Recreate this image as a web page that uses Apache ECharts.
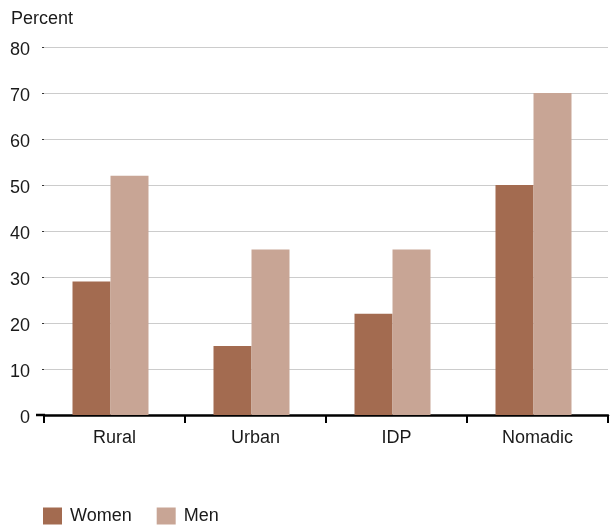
<!DOCTYPE html>
<html>
<head>
<meta charset="utf-8">
<script src="https://cdn.jsdelivr.net/npm/echarts@6/dist/echarts.min.js"></script>
<style>
  html, body { margin: 0; padding: 0; background: #fff; }
  #chart { width: 611px; height: 525px; }
</style>
</head>
<body>
<div id="chart"></div>
<script>
// Share of adults, by settlement type
const categories = ['Rural', 'Urban', 'IDP', 'Nomadic'];
const women = [29, 15, 22, 50];
const men = [52, 36, 36, 70];
const yTicks = [0, 10, 20, 30, 40, 50, 60, 70, 80];

const FONT = '"Liberation Sans", Arial, sans-serif';
const yMin = yTicks[0];
const yMax = yTicks[yTicks.length - 1];
const chart = echarts.init(document.getElementById('chart'));

chart.setOption({
  animation: false,
  backgroundColor: '#ffffff',
  textStyle: { fontFamily: FONT },
  title: {
    text: 'Percent',
    left: 6,
    top: 5,
    textStyle: { fontFamily: FONT, fontSize: 18, fontWeight: 'normal', color: '#1a1a1a' }
  },
  legend: {
    data: ['Women', 'Men'],
    left: 38,
    top: 502,
    itemWidth: 19,
    itemHeight: 17,
    itemGap: 25,
    icon: 'rect',
    textStyle: { fontFamily: FONT, fontSize: 18, color: '#1a1a1a', padding: [0, 0, 0, 3] }
  },
  // grid 0 holds the bars (pairs sit slightly left of category centres),
  // grid 1 draws the visible axes, ticks and gridlines
  grid: [
    { left: 40, right: 7, top: 47, bottom: 110, containLabel: false },
    { left: 44, right: 3, top: 47, bottom: 110, containLabel: false }
  ],
  xAxis: [
    {
      type: 'category', gridIndex: 0, data: categories, show: false
    },
    {
      type: 'category', gridIndex: 1, data: categories,
      axisLine: { lineStyle: { color: '#000', width: 2.5 } },
      axisTick: { show: true, length: 8, lineStyle: { color: '#000', width: 2 } },
      axisLabel: { color: '#1a1a1a', fontSize: 18, fontFamily: FONT, margin: 14 }
    }
  ],
  yAxis: [
    {
      type: 'value', gridIndex: 0, min: yMin, max: yMax, interval: 10, show: false,
      splitLine: { show: false }
    },
    {
      type: 'value', gridIndex: 1, min: yMin, max: yMax, interval: 10,
      axisLine: { show: false },
      axisTick: { show: true, length: 2, lineStyle: { color: '#333', width: 1 } },
      axisLabel: {
        fontSize: 18, fontFamily: FONT, margin: 14,
        formatter: '{v|{value}}',
        rich: { v: { color: '#1a1a1a', fontSize: 18, fontFamily: FONT, padding: [6, 0, 0, 0] } }
      },
      splitLine: { lineStyle: { color: '#cccccc', width: 1 } }
    }
  ],
  series: [
    {
      name: 'Women',
      type: 'bar',
      xAxisIndex: 0,
      yAxisIndex: 0,
      data: women,
      barWidth: 38,
      barGap: '0%',
      z: 3,
      itemStyle: { color: '#a36b50' }
    },
    {
      name: 'Men',
      type: 'bar',
      xAxisIndex: 0,
      yAxisIndex: 0,
      data: men,
      barWidth: 38,
      barGap: '0%',
      z: 3,
      itemStyle: { color: '#c8a595' }
    }
  ],
  graphic: [
    {
      type: 'line',
      shape: { x1: 36, y1: 415, x2: 45, y2: 415 },
      style: { stroke: '#000', lineWidth: 2.5 },
      z: 100
    }
  ]
});
</script>
</body>
</html>
